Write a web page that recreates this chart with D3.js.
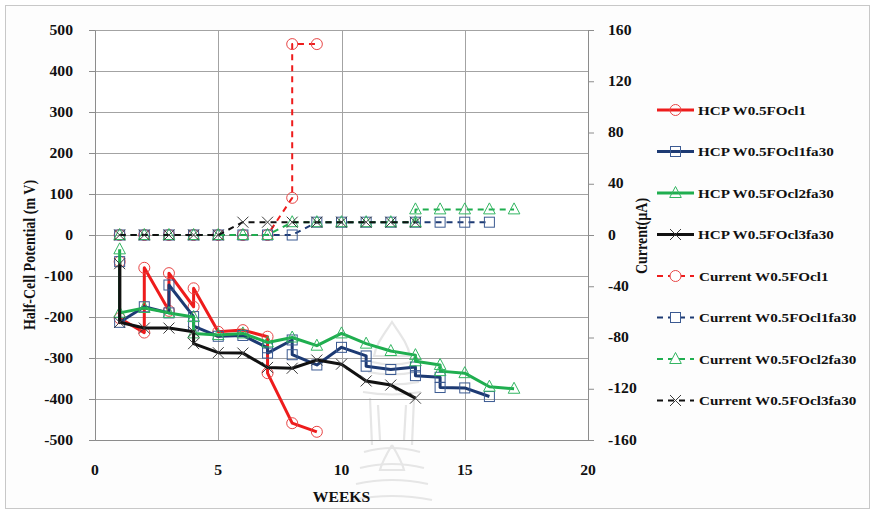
<!DOCTYPE html>
<html><head><meta charset="utf-8">
<script src="https://cdn.jsdelivr.net/npm/d3@7"></script>
<style>html,body{margin:0;padding:0;background:#fff}</style>
</head><body>
<svg id="chart" width="872" height="512"></svg>
<script>
// Half-cell potential (mV, left axis) per week
const hcpOcl1Weeks = [1, 1, 2, 2, 3, 3, 4, 4, 5, 6, 7, 7, 8, 9];
const hcpOcl1 = [-65, -203, -238, -80, -185, -93, -175, -130, -236, -232, -248, -337, -459, -480];

const hcpOcl1fa30Weeks = [1, 1, 2, 3, 3, 4, 4, 5, 6, 7, 7, 8, 8, 9, 10, 11, 11, 12, 13, 13, 14, 14, 15, 16];
const hcpOcl1fa30 = [-65, -213, -175, -190, -122, -199, -222, -247, -245, -275, -288, -256, -292, -317, -274, -295, -320, -328, -322, -343, -347, -372, -373, -394];

const hcpOcl2fa30Weeks = [1, 1, 2, 3, 4, 4, 5, 6, 7, 8, 9, 10, 11, 12, 13, 13, 14, 14, 15, 16, 17];
const hcpOcl2fa30 = [-35, -190, -178, -190, -200, -240, -244, -240, -262, -250, -270, -240, -265, -283, -293, -308, -317, -332, -337, -370, -375];

const hcpOcl3fa30Weeks = [1, 1, 2, 3, 4, 4, 5, 6, 7, 8, 9, 10, 11, 12, 13];
const hcpOcl3fa30 = [-70, -213, -227, -227, -236, -265, -287, -288, -323, -325, -305, -315, -356, -366, -398];

// Corrosion current (µA, right axis) per week
const curOcl1Weeks = [1, 2, 3, 4, 5, 6, 7, 8, 8, 9];
const curOcl1 = [0, 0, 0, 0, 0, 0, 0, 29, 149, 149];

const curOcl1fa30Weeks = [1, 2, 3, 4, 5, 6, 7, 8, 9, 10, 11, 12, 13, 14, 15, 16];
const curOcl1fa30 = [0, 0, 0, 0, 0, 0, 0, 0, 10, 10, 10, 10, 10, 10, 10, 10];

const curOcl2fa30Weeks = [1, 2, 3, 4, 5, 6, 7, 8, 9, 10, 11, 12, 13, 13, 14, 15, 16, 17];
const curOcl2fa30 = [0, 0, 0, 0, 0, 0, 0, 10, 10, 10, 10, 10, 10, 20, 20, 20, 20, 20];

const curOcl3fa30Weeks = [1, 2, 3, 4, 5, 6, 7, 8, 9, 10, 11, 12, 13];
const curOcl3fa30 = [0, 0, 0, 0, 0, 10, 10, 10, 10, 10, 10, 10, 10];

// Axis ticks
const weekTicks = [0, 5, 10, 15, 20];
const potentialTicks = [500, 400, 300, 200, 100, 0, -100, -200, -300, -400, -500];
const currentTicks = [160, 120, 80, 40, 0, -40, -80, -120, -160];

const seriesNames = [
  "HCP W0.5FOcl1", "HCP W0.5FOcl1fa30", "HCP W0.5FOcl2fa30", "HCP W0.5FOcl3fa30",
  "Current W0.5FOcl1", "Current W0.5FOcl1fa30", "Current W0.5FOcl2fa30", "Current W0.5FOcl3fa30"
];

const svg = d3.select("#chart");
const W = 872, H = 512;
const plotL = 95, plotR = 588, plotT = 30, plotB = 440;

const x = d3.scaleLinear().domain([0, 20]).range([plotL, plotR]);
const yL = d3.scaleLinear().domain([-500, 500]).range([plotB, plotT]);
const yR = d3.scaleLinear().domain([-160, 160]).range([plotB, plotT]);

const FONT = "'Liberation Serif','Times New Roman',serif";
const SX = 1.12; // horizontal stretch of all lettering

// page background and frame
svg.append("rect").attr("x", 0).attr("y", 0).attr("width", W).attr("height", H).attr("fill", "#ffffff");
svg.append("rect").attr("x", 5.5).attr("y", 5.5).attr("width", W - 8).attr("height", H - 9)
  .attr("fill", "#fdfdfd").attr("stroke", "#c8c8c8").attr("stroke-width", 1);
svg.append("rect").attr("x", plotL).attr("y", plotT).attr("width", plotR - plotL).attr("height", plotB - plotT)
  .attr("fill", "#ffffff");

// faint emblem behind the plot
const emb = svg.append("g").attr("fill", "none").attr("stroke", "#e6e6e6").attr("stroke-width", 2.2);
const ex = 392;
emb.append("path").attr("d", `M${ex},322 C${ex - 8},334 ${ex - 16},344 ${ex - 18},356 L${ex + 18},356 C${ex + 16},344 ${ex + 8},334 ${ex},322 Z`);
[[362, 20], [372, 24], [382, 27], [392, 29]].forEach(([yy, hw]) => {
  emb.append("path").attr("d", `M${ex - hw},${yy} Q${ex},${yy + 5} ${ex + hw},${yy}`);
});
emb.append("path").attr("d", `M${ex - 22},398 L${ex - 20},445 M${ex + 22},398 L${ex + 20},445`);
emb.append("path").attr("d", `M${ex - 14},405 L${ex - 12},440 M${ex + 14},405 L${ex + 12},440`);
[[452, 28], [468, 32], [484, 36], [500, 40]].forEach(([yy, hw]) => {
  emb.append("path").attr("d", `M${ex - hw},${yy} Q${ex},${yy - 8} ${ex + hw},${yy}`);
});
emb.append("path").attr("d", `M${ex},445 C${ex - 6},455 ${ex - 10},462 ${ex - 12},470 L${ex + 12},470 C${ex + 10},462 ${ex + 6},455 ${ex},445`);

// grid
const grid = svg.append("g").attr("stroke", "#a3a3a3").attr("stroke-width", 1).attr("shape-rendering", "crispEdges");
potentialTicks.forEach(v => {
  grid.append("line").attr("x1", plotL).attr("x2", plotR).attr("y1", Math.round(yL(v)) + 0.5).attr("y2", Math.round(yL(v)) + 0.5);
});
weekTicks.forEach(v => {
  grid.append("line").attr("x1", Math.round(x(v)) + 0.5).attr("x2", Math.round(x(v)) + 0.5).attr("y1", plotT).attr("y2", plotB);
});

// axes via d3 axis generators
function styleAxis(g) {
  g.select(".domain").attr("stroke", "#8c8c8c");
  g.selectAll(".tick line").attr("stroke", "#8c8c8c");
  g.selectAll(".tick text").remove();
}
svg.append("g").attr("transform", `translate(${plotL},0)`)
  .call(d3.axisLeft(yL).tickValues(potentialTicks).tickSize(6).tickSizeOuter(0)).call(styleAxis);
svg.append("g").attr("transform", `translate(${plotR},0)`)
  .call(d3.axisRight(yR).tickValues(currentTicks).tickSize(6).tickSizeOuter(0)).call(styleAxis);
svg.append("g").attr("transform", `translate(0,${plotB})`)
  .call(d3.axisBottom(x).tickValues(weekTicks).tickSize(0).tickSizeOuter(0)).call(styleAxis);

function label(g, txt, px, py, size, anchor, rotate) {
  return g.append("text")
    .attr("transform", `translate(${px},${py})` + (rotate ? ` rotate(${rotate}) scale(1,${SX})` : ` scale(${SX},1)`))
    .attr("font-family", FONT).attr("font-weight", "bold").attr("font-size", size)
    .attr("fill", "#111").attr("text-anchor", anchor).attr("dominant-baseline", "central")
    .text(txt);
}

const texts = svg.append("g");
potentialTicks.forEach(v => label(texts, String(v), 73, yL(v), 14, "end"));
currentTicks.forEach(v => label(texts, String(v), 608, yR(v), 14, "start"));
weekTicks.forEach(v => label(texts, String(v), x(v), 470, 14, "middle"));
label(texts, "WEEKS", x(10), 497, 14, "middle");
label(texts, "Half-Cell Potential (m V)", 30, 255, 14, "middle", -90);
label(texts, "Current(µA)", 642, 236, 14, "middle", -90);

// marker shapes
const markerShape = {
  circle: g => g.append("circle").attr("r", 5.5),
  square: g => g.append("rect").attr("x", -5).attr("y", -5).attr("width", 10).attr("height", 10),
  triangle: g => g.append("path").attr("d", "M0,-6.5 L5.8,4.5 L-5.8,4.5 Z"),
  cross: g => g.append("path").attr("d", "M-5.5,-5.5 L5.5,5.5 M-5.5,5.5 L5.5,-5.5")
};

const styles = [
  { line: "#ee1c1c", mark: "#e84545", shape: "circle" },
  { line: "#1d3a73", mark: "#3b5a92", shape: "square" },
  { line: "#1fae4f", mark: "#33b562", shape: "triangle" },
  { line: "#111111", mark: "#3c3c3c", shape: "cross" }
];

const hcpSeries = [
  [hcpOcl1Weeks, hcpOcl1], [hcpOcl1fa30Weeks, hcpOcl1fa30],
  [hcpOcl2fa30Weeks, hcpOcl2fa30], [hcpOcl3fa30Weeks, hcpOcl3fa30]
];
const curSeries = [
  [curOcl1Weeks, curOcl1], [curOcl1fa30Weeks, curOcl1fa30],
  [curOcl2fa30Weeks, curOcl2fa30], [curOcl3fa30Weeks, curOcl3fa30]
];

const plot = svg.append("g");

function drawSeries(weeks, vals, yScale, st, dashed) {
  const pts = weeks.map((w, i) => [x(w), yScale(vals[i])]);
  plot.append("path").attr("d", d3.line()(pts)).attr("fill", "none")
    .attr("stroke", st.line).attr("stroke-width", dashed ? 2 : 3)
    .attr("stroke-dasharray", dashed ? "6,5" : null).attr("stroke-linejoin", "round");
  const mg = plot.append("g").attr("fill", "none").attr("stroke", st.mark).attr("stroke-width", 1);
  pts.forEach(p => {
    const g = mg.append("g").attr("transform", `translate(${p[0]},${p[1]})`);
    markerShape[st.shape](g);
  });
}

hcpSeries.forEach((s, i) => drawSeries(s[0], s[1], yL, styles[i], false));
curSeries.forEach((s, i) => drawSeries(s[0], s[1], yR, styles[i], true));

// legend
const legend = svg.append("g");
seriesNames.forEach((name, i) => {
  const st = styles[i % 4];
  const dashed = i >= 4;
  const ly = 110 + i * 41.5;
  legend.append("line").attr("x1", 657).attr("x2", 694).attr("y1", ly).attr("y2", ly)
    .attr("stroke", st.line).attr("stroke-width", dashed ? 2 : 3)
    .attr("stroke-dasharray", dashed ? "6,5" : null);
  const g = legend.append("g").attr("transform", `translate(675.5,${ly})`)
    .attr("fill", dashed ? "#fff" : "none").attr("stroke", st.mark).attr("stroke-width", 1);
  markerShape[st.shape](g);
  label(legend, name, dashed ? 699 : 698, ly, 13.5, "start");
});
</script>
</body></html>
